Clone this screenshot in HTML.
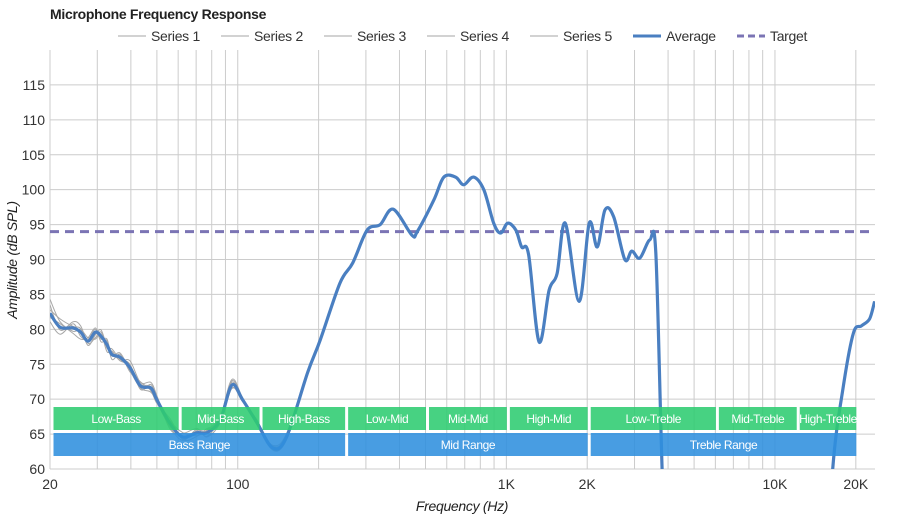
<!DOCTYPE html>
<html><head><meta charset="utf-8">
<style>
html,body{margin:0;padding:0;background:#fff;overflow:hidden;width:900px;height:520px;}
svg{display:block;font-family:"Liberation Sans",Arial,sans-serif;}
</style></head>
<body>
<svg id="chart" width="900" height="520" viewBox="0 0 900 520" xmlns="http://www.w3.org/2000/svg">
<defs><clipPath id="plotclip"><rect x="50" y="50" width="825" height="419"/></clipPath></defs>
<text x="50" y="19" font-size="14" font-weight="bold" fill="#222" letter-spacing="-0.3">Microphone Frequency Response</text>
<g id="legend"></g>
<g id="grid"></g>
<g id="series" clip-path="url(#plotclip)"></g>
<g id="bands"></g>
<g id="axes"></g>
<text x="462" y="511" font-size="14" font-style="italic" text-anchor="middle" fill="#222" letter-spacing="-0.3">Frequency (Hz)</text>
<text transform="translate(17,260) rotate(-90)" font-size="14" font-style="italic" text-anchor="middle" fill="#222" letter-spacing="-0.3">Amplitude (dB SPL)</text>
</svg>
<script>
const freqs = [20,21.8,24.4,26,27.7,29.5,31,32.6,34,36.5,39.7,43.4,47.5,50,56,62.5,70.6,76.8,86,95,104,118,135,152,182,203,240,268,303,339,379,445,466,537,585,647,693,755,824,897,952,1012,1085,1140,1210,1324,1443,1545,1657,1866,2034,2180,2330,2510,2760,2930,3140,3420,3600,3800,4000,15000,16400,18000,19600,21000,22500,23500];
const avgValues = [82.3,80.3,80.2,79.6,78.3,79.6,79,77.8,76.4,76,74.5,71.9,71.6,69.9,66.5,64.6,65.2,65.2,67,72,70,66.6,63,64.6,73.8,78.5,86.6,89.5,94.2,95,97.2,93.5,94,98.5,101.8,101.8,100.7,101.8,100,95.2,93.8,95.2,94.2,91.8,90.7,78.2,85.6,88,95.2,84,95.2,91.8,97.1,96.1,90,91.2,90.2,92.8,91,60,35,35,60,72,79.5,80.5,81.5,84];
const series1Dev = [2,0.8,-0.5,0.4,0.5,-1,0.3,-1,0.5,-0.5,1,0.5,0.8,0.6,-0.8,0.5,0.6,-0.5,0.4,0.8,0.3,-0.3,0.4,0.5,0.3,0.2];
const series2Dev = [-1.2,-1,0.6,-0.6,0.2,0.4,-0.8,0.6,-0.7,0.4,-0.6,0.6,-0.4,-0.5,0.7,-0.4,-0.5,0.6,-0.3,-0.4,-0.3,0.4,-0.3,-0.2,-0.3,-0.2];
const series3Dev = [1.2,-0.4,0.9,0.9,-0.3,-0.8,0.6,-0.5,0.8,-0.3,0.5,-0.5,0.5,0.3,0.4,0.6,-0.4,0.4,0.5,0.6,0.2,0.3,0.3,0.3,0.2,0.3];
const series4Dev = [-0.6,0.5,-0.8,-1,0.5,0.6,-0.4,0.8,-0.2,0.6,-0.4,-0.3,-0.6,-0.4,-0.5,-0.5,0.5,-0.6,-0.4,-0.5,-0.2,-0.3,-0.2,-0.4,-0.2,-0.2];
const series5Dev = [0.5,1.2,0.2,0.5,-0.6,-0.4,0.9,-0.3,0.3,-0.5,0.3,0.3,0.2,-0.2,0.3,-0.3,0.3,0.3,0.3,0.4,-0.2,0.2,0.2,0.2,0.2,0.3];
const targetValue = 94;
const yTicks = [60,65,70,75,80,85,90,95,100,105,110,115];
const xTickValues = [20,100,1000,2000,10000,20000];
const xTickLabels = ["20","100","1K","2K","10K","20K"];
const gridFreqs = [20,30,40,50,60,70,80,90,100,200,300,400,500,600,700,800,900,1000,2000,3000,4000,5000,6000,7000,8000,9000,10000,20000];
const bandNames = ["Low-Bass","Mid-Bass","High-Bass","Low-Mid","Mid-Mid","High-Mid","Low-Treble","Mid-Treble","High-Treble"];
const bandEdges = [20,60,120,250,500,1000,2000,6000,12000,20000];
const rangeNames = ["Bass Range","Mid Range","Treble Range"];
const rangeEdges = [20,250,2000,20000];

const NS="http://www.w3.org/2000/svg";
const X0=50, X1=875, Y0=469, Y1=50;
const fMin=20, fMax=Math.pow(10,4+(875-775)/268.5);
function xs(f){return X0+(Math.log10(f)-Math.log10(fMin))/(Math.log10(fMax)-Math.log10(fMin))*(X1-X0);}
function ys(v){return Y0-(v-60)/(120-60)*(Y0-Y1);}
function mk(tag,attrs,parent){const e=document.createElementNS(NS,tag);for(const k in attrs)e.setAttribute(k,attrs[k]);parent.appendChild(e);return e;}
function smooth(pts){let d="M"+pts[0][0].toFixed(1)+","+pts[0][1].toFixed(1);
 for(let i=0;i<pts.length-1;i++){const p0=pts[Math.max(0,i-1)],p1=pts[i],p2=pts[i+1],p3=pts[Math.min(pts.length-1,i+2)];
  const c1=[p1[0]+(p2[0]-p0[0])/6,p1[1]+(p2[1]-p0[1])/6],c2=[p2[0]-(p3[0]-p1[0])/6,p2[1]-(p3[1]-p1[1])/6];
  d+=" C"+c1[0].toFixed(1)+","+c1[1].toFixed(1)+" "+c2[0].toFixed(1)+","+c2[1].toFixed(1)+" "+p2[0].toFixed(1)+","+p2[1].toFixed(1);}
 return d;}

const grid=document.getElementById('grid');
yTicks.forEach(v=>{const l=mk('line',{x1:X0,x2:X1,y1:ys(v),y2:ys(v),stroke:'#cccccc','stroke-width':1},grid);
 
 });
gridFreqs.forEach(f=>{const l=mk('line',{x1:xs(f),x2:xs(f),y1:Y1,y2:Y0,stroke:'#cccccc','stroke-width':1},grid);
 
 });

const axes=document.getElementById('axes');
yTicks.forEach(v=>{const t=mk('text',{x:45,y:ys(v)+5,'font-size':14,'text-anchor':'end',fill:'#333'},axes);t.textContent=v;
 
 });
xTickValues.forEach((f,i)=>{const t=mk('text',{x:xs(f),y:489,'font-size':14,'text-anchor':'middle',fill:'#333'},axes);t.textContent=xTickLabels[i];
 
 });

const sg=document.getElementById('series');
const devs=[series1Dev,series2Dev,series3Dev,series4Dev,series5Dev];
devs.forEach((dv,si)=>{const pts=freqs.map((f,i)=>[xs(f),ys(avgValues[i]+(i<dv.length?dv[i]:0))]);
 const p=mk('path',{d:smooth(pts),fill:'none',stroke:'#a8a8a8','stroke-width':1},sg);
 
 });
const tl=mk('line',{x1:X0,x2:X1,y1:ys(targetValue),y2:ys(targetValue),stroke:'#7b74b4','stroke-width':3,'stroke-dasharray':'9,6'},sg);


const av=mk('path',{d:smooth(freqs.map((f,i)=>[xs(f),ys(avgValues[i])])),fill:'none',stroke:'#4a7fc1','stroke-width':3.2},sg);



const bands=document.getElementById('bands');
function band(f0,f1,y,h,color,name,label){
 const g=mk('g',{},bands);
 
 
 mk('rect',{x:xs(f0)+3.5,y:y,width:xs(f1)-xs(f0)-3,height:h,fill:color,'fill-opacity':0.88},g);
 const t=mk('text',{x:(xs(f0)+xs(f1))/2+2,y:y+h/2+4.5,'font-size':12,'letter-spacing':'-0.4','text-anchor':'middle',fill:'#fff'},g);t.textContent=name;}
bandNames.forEach((n,i)=>band(bandEdges[i],bandEdges[i+1],407,23,'#2ecc71',n,'band-'+n.toLowerCase()));
rangeNames.forEach((n,i)=>band(rangeEdges[i],rangeEdges[i+1],433,23,'#2f8fde',n,'range-'+n.toLowerCase().replace(' ','-')));

const lg=document.getElementById('legend');
const legendNames=["Series 1","Series 2","Series 3","Series 4","Series 5","Average","Target"];
const legendX=[118,221,324,427,530,633,737];
legendNames.forEach((n,i)=>{const g=mk('g',{},lg);
 
 
 const x=legendX[i];
 if(i<5)mk('line',{x1:x,x2:x+28,y1:36,y2:36,stroke:'#c4c4c4','stroke-width':1.5},g);
 else if(i==5)mk('line',{x1:x,x2:x+28,y1:36,y2:36,stroke:'#4a7fc1','stroke-width':3},g);
 else mk('line',{x1:x,x2:x+28,y1:36,y2:36,stroke:'#7b74b4','stroke-width':3,'stroke-dasharray':'7,4'},g);
 const t=mk('text',{x:x+33,y:41,'font-size':14,'letter-spacing':'-0.3',fill:'#333'},g);t.textContent=n;});
</script>
</body></html>
